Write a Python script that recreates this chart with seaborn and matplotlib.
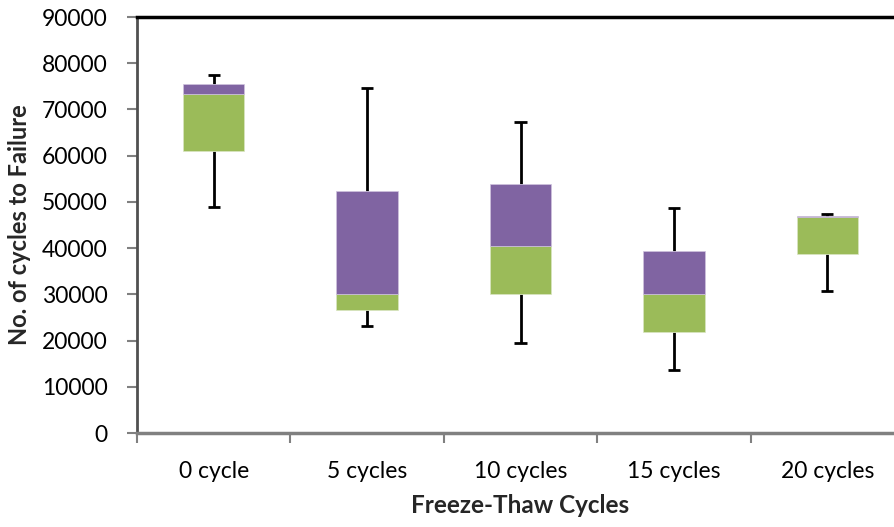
import numpy as np
import pandas as pd
import matplotlib
matplotlib.use("Agg")
import matplotlib.pyplot as plt
import seaborn as sns

# Data
categories = ["0 cycle", "5 cycles", "10 cycles", "15 cycles", "20 cycles"]
whisker_min = [48800, 23150, 19500, 13550, 30800]
q1 = [61100, 26700, 30100, 21800, 38750]
median = [73350, 30100, 40550, 30150, 46750]
q3 = [75450, 52450, 53950, 39400, 46950]
whisker_max = [77450, 74700, 67200, 48750, 47350]
y_ticks = [0, 10000, 20000, 30000, 40000, 50000, 60000, 70000, 80000, 90000]

GREEN = "#9BBB59"
PURPLE = "#8064A2"

sns.set_style("white")
plt.rcParams["font.family"] = ["Lato", "DejaVu Sans"]

fig = plt.figure(figsize=(8.94, 5.27), dpi=100)
W, H = 894, 527
left, right, top, bottom = 137, 904, 17, 433
ax = fig.add_axes([left / W, 1 - bottom / H, (right - left) / W, (bottom - top) / H])

df = pd.DataFrame({
    "cat": categories,
    "q1": q1,
    "med": median,
    "q3": q3,
    "lower": np.array(median) - np.array(q1),
    "upper": np.array(q3) - np.array(median),
})

sns.barplot(data=df, x="cat", y="lower", bottom=df["q1"], color=GREEN, width=0.4,
            saturation=1, edgecolor="#d9e6c2", linewidth=0.5, ax=ax, zorder=3)
sns.barplot(data=df, x="cat", y="upper", bottom=df["med"], color=PURPLE, width=0.4,
            saturation=1, edgecolor="#cfc3de", linewidth=0.5, ax=ax, zorder=3)

xs = np.arange(len(categories))
cap = 0.04
ax.vlines(xs, q3, whisker_max, color="black", lw=2, zorder=2)
ax.vlines(xs, whisker_min, q1, color="black", lw=2, zorder=2)
ax.hlines(whisker_max, xs - cap, xs + cap, color="black", lw=2, zorder=2)
ax.hlines(whisker_min, xs - cap, xs + cap, color="black", lw=2, zorder=2)

ax.set_xlim(-0.5, len(categories) - 0.5)
ax.set_ylim(0, 90000)
ax.set_yticks(y_ticks)
ax.set_yticklabels([str(t) for t in y_ticks])

ax.set_xticks(xs)
ax.set_xticklabels(categories)
ax.set_xticks(np.arange(-0.5, len(categories), 1.0), minor=True)
ax.tick_params(axis="x", which="major", length=0, pad=20, labelsize=16.5, colors="black")
ax.tick_params(axis="x", which="minor", length=7, width=1.5, color="#808080", direction="out")
ax.tick_params(axis="y", which="major", length=7, width=1.5, color="#808080", direction="out",
               pad=14, labelsize=16.5, labelcolor="black")
ax.tick_params(axis="both", left=True, bottom=True, which="both")

ax.set_xlabel("Freeze-Thaw Cycles", fontsize=17.5, fontweight="bold", labelpad=9)
ax.set_ylabel("No. of cycles to Failure", fontsize=17, fontweight="bold", labelpad=8)

for s in ["top", "right"]:
    ax.spines[s].set_color("black")
    ax.spines[s].set_linewidth(2.5)
ax.spines["left"].set_color("#505050")
ax.spines["left"].set_linewidth(2)
ax.spines["bottom"].set_color("#808080")
ax.spines["bottom"].set_linewidth(2.5)
for s in ax.spines.values():
    s.set_zorder(5)

fig.savefig("out.png", dpi=100)
